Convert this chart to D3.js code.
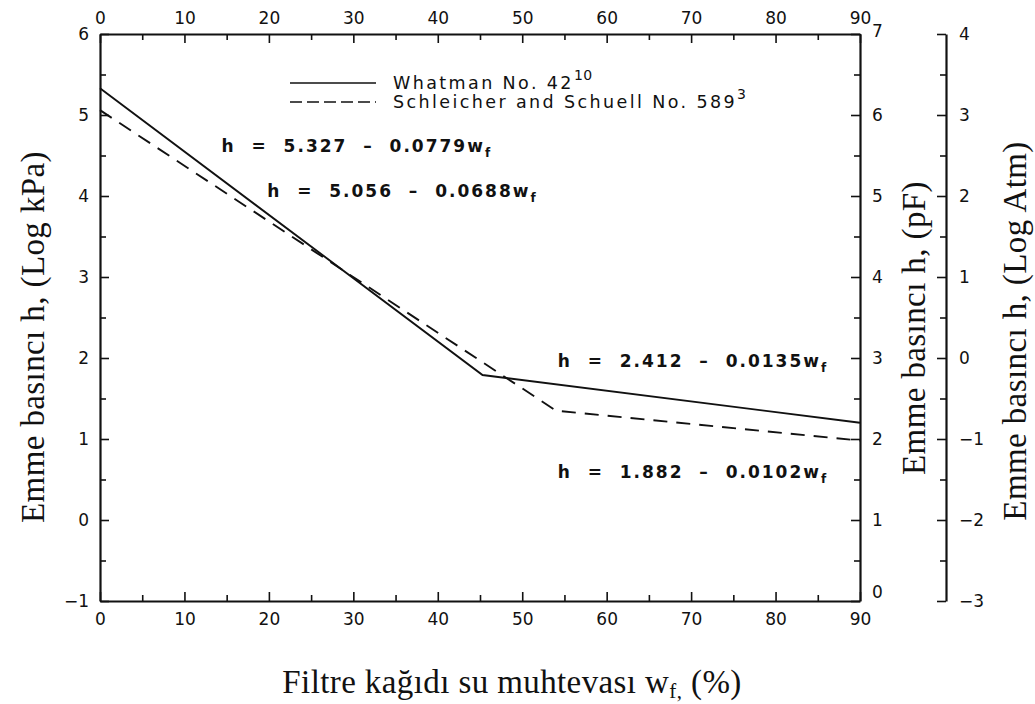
<!DOCTYPE html>
<html>
<head>
<meta charset="utf-8">
<script src="https://cdn.jsdelivr.net/npm/d3@7"></script>
<style>
  body { margin: 0; background: #fff; }
  svg { display: block; }
  .tick text { font-family: "DejaVu Sans", sans-serif; font-size: 17px; fill: #111; }
  .domain, .tick line { stroke: #111; }
  .title { font-family: "Liberation Serif", serif; font-size: 33px; fill: #111; letter-spacing: 0.4px; }
  .legend, .eq { font-family: "DejaVu Sans", sans-serif; fill: #111; white-space: pre; }
</style>
</head>
<body>
<div id="chart"></div>
<script>
const w = 1035;
const h = 704;

// axis ticks
const xTicks = [0, 10, 20, 30, 40, 50, 60, 70, 80, 90];
const xMinor = [5, 15, 25, 35, 45, 55, 65, 75, 85];
const kpaTicks = [-1, 0, 1, 2, 3, 4, 5, 6];
const kpaMinor = [-0.5, 0.5, 1.5, 2.5, 3.5, 4.5, 5.5];
const pfTicks = [0, 1, 2, 3, 4, 5, 6, 7];
const pfMinor = [0.5, 1.5, 2.5, 3.5, 4.5, 5.5, 6.5];
const atmTicks = [-3, -2, -1, 0, 1, 2, 3, 4];
const atmMinor = [-2.5, -1.5, -0.5, 0.5, 1.5, 2.5, 3.5];

// series (water content %, log kPa)
const whatmanW = [0, 45.3, 90];
const whatmanH = [5.33, 1.79, 1.2];
const schleicherW = [0, 54, 90];
const schleicherH = [5.06, 1.35, 0.98];

// labels
const legendNames = ["Whatman No. 42", "Schleicher and Schuell No. 589"];
const legendSups = ["10", "3"];
const equations = [
    {text: "h  =  5.327  –  0.0779w", x: 14.4, y: 4.54},
    {text: "h  =  5.056  –  0.0688w", x: 19.8, y: 3.99},
    {text: "h  =  2.412  –  0.0135w", x: 54.2, y: 1.89},
    {text: "h  =  1.882  –  0.0102w", x: 54.2, y: 0.52}
];

const m = {left: 100, right: 860, top: 34, bottom: 601};

const x = d3.scaleLinear().domain([0, 90]).range([m.left, m.right]);
const yKpa = d3.scaleLinear().domain([-1, 6]).range([m.bottom, m.top]);
const yPf = d3.scaleLinear().domain([0, 7]).range([m.bottom, m.top]);
const yAtm = d3.scaleLinear().domain([-3, 4]).range([m.bottom, m.top]);

const svg = d3.select("#chart").append("svg").attr("width", w).attr("height", h);

const fmt = d => d < 0 ? "−" + Math.abs(d) : String(d);

function drawAxis(axisFn, scale, major, minor, transform, pad) {
    let g = svg.append("g").attr("transform", transform);
    g.call(axisFn(scale).tickValues(major).tickFormat(fmt).tickSizeInner(-9).tickSizeOuter(0).tickPadding(pad));
    g.append("g").call(axisFn(scale).tickValues(minor).tickFormat("").tickSizeInner(-6).tickSizeOuter(0))
        .select(".domain").remove();
    g.selectAll(".domain").attr("stroke-width", 2.2);
    g.selectAll(".tick line").attr("stroke-width", 1.6);
    return g;
}

drawAxis(d3.axisBottom, x, xTicks, xMinor, `translate(0,${m.bottom})`, 12);
drawAxis(d3.axisTop, x, xTicks, xMinor, `translate(0,${m.top})`, 10);
drawAxis(d3.axisLeft, yKpa, kpaTicks, kpaMinor, `translate(${m.left},0)`, 11);
let pfAxis = drawAxis(d3.axisRight, yPf, pfTicks, pfMinor, `translate(${m.right},0)`, 12);
pfAxis.selectAll(".tick text").filter(d => d == 0).attr("dy", "-0.2em");
pfAxis.selectAll(".tick text").filter(d => d == 7).attr("dy", "0.15em");
drawAxis(d3.axisRight, yAtm, atmTicks, atmMinor, `translate(946,0)`, 13);

// lines
const line = d3.line().x(d => x(d[0])).y(d => yKpa(d[1]));

svg.append("path")
    .datum(d3.zip(whatmanW, whatmanH))
    .attr("d", line)
    .attr("fill", "none")
    .attr("stroke", "#111")
    .attr("stroke-width", 1.9);

svg.append("path")
    .datum(d3.zip(schleicherW, schleicherH))
    .attr("d", line)
    .attr("fill", "none")
    .attr("stroke", "#111")
    .attr("stroke-width", 1.9)
    .attr("stroke-dasharray", "14,9");

// legend
legendNames.forEach((name, i) => {
    let ly = 83 + i * 19;
    svg.append("line")
        .attr("x1", 290).attr("x2", 376)
        .attr("y1", ly).attr("y2", ly)
        .attr("stroke", "#111").attr("stroke-width", 1.6)
        .attr("stroke-dasharray", i == 1 ? "12,5" : null);
    let t = svg.append("text").attr("class", "legend")
        .attr("x", 393).attr("y", ly + 6)
        .style("font-size", "17.5px")
        .style("letter-spacing", "2.4px");
    t.append("tspan").text(name);
    t.append("tspan").attr("dy", -9).style("font-size", "14px").style("letter-spacing", "0.5px").text(legendSups[i]);
});

// equations
equations.forEach(e => {
    let t = svg.append("text").attr("class", "eq")
        .attr("x", x(e.x)).attr("y", yKpa(e.y))
        .style("font-size", "17px")
        .style("font-weight", "bold")
        .style("letter-spacing", "2px");
    t.append("tspan").text(e.text);
    t.append("tspan").attr("dy", 5).style("font-size", "12px").text("f");
});

// axis titles
svg.append("text").attr("class", "title")
    .attr("transform", "translate(44,337) rotate(-90)")
    .attr("text-anchor", "middle")
    .text("Emme basıncı h, (Log kPa)");

svg.append("text").attr("class", "title")
    .attr("transform", "translate(925,328) rotate(-90)")
    .attr("text-anchor", "middle")
    .text("Emme basıncı h, (pF)");

svg.append("text").attr("class", "title")
    .attr("transform", "translate(1026,331) rotate(-90)")
    .attr("text-anchor", "middle")
    .text("Emme basıncı h, (Log Atm)");

let xt = svg.append("text").attr("class", "title")
    .attr("x", 512).attr("y", 693)
    .attr("text-anchor", "middle");
xt.append("tspan").text("Filtre kağıdı su muhtevası w");
xt.append("tspan").attr("dy", 5).style("font-size", "21px").text("f,");
xt.append("tspan").attr("dy", -5).text(" (%)");
</script>
</body>
</html>
